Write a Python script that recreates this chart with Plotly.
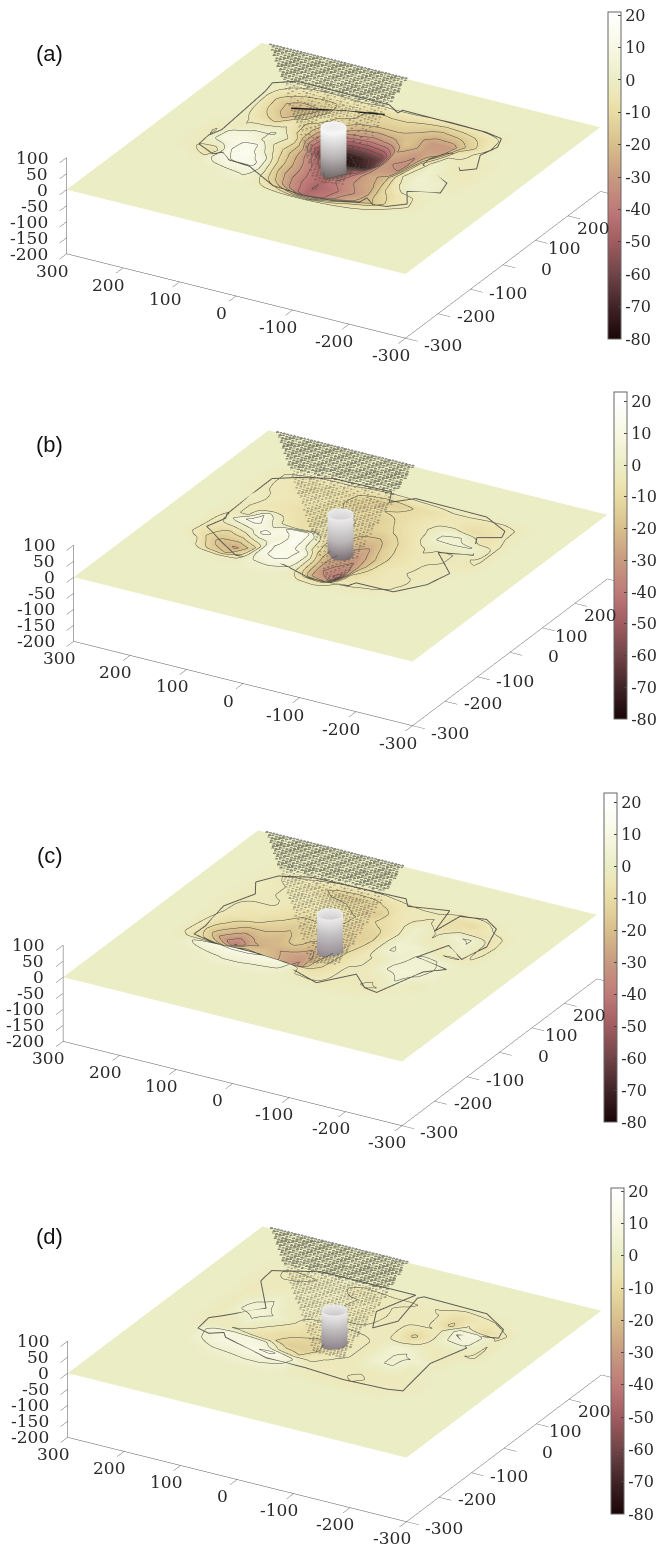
import numpy as np
import plotly.graph_objects as go

GRID_X = [240,210,180,150,120,90,60,30,0,-30,-60,-90,-120,-150,-180,-210,-240]
GRID_Y = [240,210,180,150,120,90,60,30,0,-30,-60,-90,-120,-150,-180]

Z_A = [
[0]*17,
[0]*17,
[0,0,-5,-10,-12,-10,-8,-12,-10,-10,-14,-18,-15,-10,-5,0,0],
[0,0,-14,-24,-20,-10,-8,-14,-16,-16,-20,-30,-30,-16,-6,0,0],
[0,0,-12,-22,-14,-6,-16,-30,-35,-30,-18,-28,-28,-8,-3,0,0],
[0,0,-8,-14,-6,-14,-50,-75,-70,-60,-25,-32,-18,-3,-3,-3,0],
[0,0,-4,-5,-3,-14,-55,-80,-75,-65,-30,-34,-10,2,-3,-3,0],
[0,-2,-3,2,4,-6,-35,-55,-55,-50,-30,-30,-6,2,-2,-3,0],
[0,-4,6,8,2,-10,-28,-42,-50,-40,-28,-22,-4,3,2,-2,0],
[0,-3,8,10,12,-4,-22,-38,-45,-36,-30,-24,-8,2,2,0,0],
[0,-3,-10,10,14,8,-20,-36,-46,-42,-34,-28,-12,-6,-3,0,0],
[0,0,-2,8,12,12,-12,-30,-44,-40,-30,-24,-18,-8,-4,0,0],
[0,0,0,0,2,4,-4,-12,-20,-22,-16,-10,-6,-3,0,0,0],
[0]*17,
[0]*17,
]
Z_B = [
[0]*17,
[0]*17,
[0,-3,-5,-7,-8,-8,-12,-16,-14,-10,-8,-5,-5,-6,-6,-3,0],
[0,-3,-5,-7,-6,-8,-14,-12,-10,-9,-6,-4,-5,-10,-7,-3,0],
[0,-3,-4,-5,-6,-9,-10,-12,-14,-10,-6,-3,3,3,-6,-4,0],
[0,0,-4,-6,-8,-10,-8,-10,-14,-12,-8,-4,4,5,4,-4,0],
[0,-2,-5,-5,-6,-10,-8,-9,-18,-20,-12,-6,-3,-4,-3,-4,0],
[0,-3,-4,10,-4,-8,-6,-10,-22,-26,-14,-8,-4,-4,-3,-3,0],
[0,-5,8,14,4,12,14,-10,-24,-30,-18,-8,-5,-3,-3,0,0],
[0,-6,-12,-4,14,6,16,-6,-28,-34,-18,-6,-4,-3,-2,0,0],
[0,-8,-20,-26,-14,10,12,10,-30,-42,-12,-6,-4,-4,0,0,0],
[0,0,-14,-18,-10,8,14,8,-24,-30,-8,-5,-5,-3,0,0,0],
[0,0,0,-2,-2,2,3,0,-6,-8,-3,-3,-2,0,0,0,0],
[0]*17,
[0]*17,
]
Z_C = [
[0]*17,
[0]*17,
[0,-2,-4,-5,-8,-14,-16,-14,-8,-5,-4,-4,-8,-10,-4,0,0],
[0,-2,-3,-4,-5,-8,-10,-14,-16,-6,-4,-3,-8,-5,-6,-5,0],
[0,-2,-3,-4,-4,-5,-6,-10,-12,-8,-4,2,-4,3,4,-6,0],
[0,-3,-3,-3,-6,-8,-8,-10,-14,-12,-6,2,-3,-3,3,-5,0],
[0,-3,-5,-5,-8,-14,-12,-14,-14,-14,-5,3,3,-3,-4,-3,0],
[0,-3,-6,-8,-14,-18,-14,-16,-18,-12,-5,4,2,5,3,0,0],
[0,-4,-12,-24,-20,-22,-14,-24,-20,-10,-4,-3,3,5,4,0,0],
[0,-5,-24,-40,-26,-22,-26,-30,-18,-9,-4,-3,4,6,3,0,0],
[0,-6,-12,-20,-16,-18,-24,-34,-16,-8,-3,-3,-3,4,-3,0,0],
[0,0,6,10,12,12,10,8,-6,-6,-3,-3,-4,-3,0,0,0],
[0,0,0,2,4,4,3,2,-2,-3,-3,-2,-2,0,0,0,0],
[0]*17,
[0]*17,
]
Z_D = [
[0]*17,
[0]*17,
[0,-2,-5,-4,-3,-2,-6,-5,-4,-4,-3,-4,-8,-6,-4,0,0],
[0,-3,-3,-3,-3,-2,-3,-4,-4,-3,-3,-3,-12,-3,-10,-5,0],
[0,-3,-3,-2,-2,-3,-3,-5,-5,-3,-3,-3,-4,6,8,-3,0],
[0,-3,-2,2,-3,-2,-2,-4,-4,-3,-3,-12,-5,4,6,-4,0],
[0,-3,3,5,-2,-3,-3,-3,-3,-3,-3,-6,-3,-3,-3,-4,0],
[0,-3,4,6,3,-3,-8,-6,-5,-4,-3,3,3,-3,-3,0,0],
[0,-3,-2,3,-3,-8,-10,-12,-8,-4,-3,3,4,3,-2,0,0],
[0,-3,-3,-4,-8,-10,-15,-15,-8,-4,-3,3,4,-3,0,0,0],
[0,0,6,8,8,6,-6,-10,-4,-3,-3,-3,-3,-3,-2,0,0],
[0,0,4,8,8,10,12,6,-3,-3,-3,-4,-3,-3,-3,0,0],
[0,0,0,2,3,4,4,2,-2,-3,-3,-3,-2,-2,0,0,0],
[0]*17,
[0]*17,
]
OUT_A_X = [209,214,185,20,-3,-6,-156,-188,-198,-189,-208,-189,-144,-130,-119,-128,-195,-204,-156,-177,-153,-128,-103,-102,-64,-9,37,92,130,154,167,206,208,199,209]
OUT_A_Y = [154,184,208,207,193,202,199,190,161,123,79,61,117,122,88,53,10,-26,-45,-81,-103,-102,-76,-97,-113,-109,-122,-99,-95,-74,-81,-56,-23,2,154]
OUT_B_X = [210,211,178,130,28,19,-3,-16,-143,-191,-198,-165,-193,-140,-194,-184,-151,-84,-79,-41,-10,38,127,174,215,202,209,210]
OUT_B_Y = [109,156,182,202,206,183,196,204,201,174,152,133,73,57,-1,-54,-100,-98,-114,-115,-113,-107,-102,-61,-38,-2,14,109]
OUT_C_X = [212,193,145,-18,-32,-97,-112,-119,-161,-191,-208,-198,-157,-138,-198,-173,-144,-119,-84,-46,2,164,205,205,213,192,212]
OUT_C_Y = [140,177,198,203,184,200,128,193,202,180,121,61,92,27,14,-14,-107,-100,-65,-122,-101,-78,-62,-27,43,104,140]
OUT_D_X = [207,210,140,-26,0,-25,-47,-33,-40,-153,-202,-210,-194,-154,-188,-166,-177,-152,-76,-5,58,148,159,179,205,211,196,147,207]
OUT_D_Y = [133,172,205,205,129,74,114,198,206,203,169,140,131,108,80,6,-97,-104,-107,-100,-109,-78,-64,-76,-64,-20,-4,45,133]
OUTLINES = [(OUT_A_X,OUT_A_Y),(OUT_B_X,OUT_B_Y),(OUT_C_X,OUT_C_Y),(OUT_D_X,OUT_D_Y)]
PANEL_GRIDS = [Z_A, Z_B, Z_C, Z_D]
PANEL_NAMES = ["(a)", "(b)", "(c)", "(d)"]
PLATE_CENTRE = [(334,158.5),(341,546),(330.5,945.5),(335,1341.5)]
LABEL_Y = [53,445,855,1236]
CYL_BASE = [-50,-57,-32,-16]
CYL_TOP = [98,118,114,114]
CYL_DARK = ["#6e6464","#5a4a50","#8a8088","#857a80"]
HATCH_END_Y = [-45,-105,-50,-40]
CBAR_X = [608,614,604,611]
CBAR_TOP = [12,392,793,1188]
CBAR_BOTTOM = [339,719,1122,1514]
CBAR_MAX = [21,23,23,21]
CBAR_STOPS = [(-80,"#1a0505"),(-70,"#402426"),(-60,"#704448"),(-50,"#a05c60"),(-40,"#bf7a78"),
              (-30,"#c89a80"),(-20,"#d8bf8c"),(-10,"#e8dca4"),(-5,"#eee6b6"),(0,"#ebedc5"),(10,"#f8f8e4"),(20,"#ffffff"),(23,"#ffffff")]
CBAR_TICKS = list(range(-80,30,10))
X_TICKS = [-300,-200,-100,0,100,200,300]
Y_TICKS = [-300,-200,-100,0,100,200,300]
Y_LABELS = [-300,-200,-100,0,100,200]
Z_TICKS = [-200,-150,-100,-50,0,50,100]
Y_SHIFT_PX = [37,38,38,44,29,25]
Y_DROP_PX = [7,2,4,4,8,12]
WEDGE_BACK = (283,41,298)
WEDGE_APEX = (-60,-130)
RIDGE_A_X = [156,100,50,14]
RIDGE_A_Y = [141,155,170,182]

EYE = np.array([0.449,-0.781,0.433])*1.8
ZOOM = 2.0575
W,H = 660,1549
fig = go.Figure()

def lookup(grid,x,y):
    xs=np.array(GRID_X[::-1],float); ys=np.array(GRID_Y[::-1],float)
    g=np.array(grid,float)[::-1,::-1]
    if x<xs[0] or x>xs[-1] or y<ys[0] or y>ys[-1]: return 0.0
    i=min(np.searchsorted(xs,x,side='right')-1,len(xs)-2); j=min(np.searchsorted(ys,y,side='right')-1,len(ys)-2)
    tx=(x-xs[i])/(xs[i+1]-xs[i]); ty=(y-ys[j])/(ys[j+1]-ys[j])
    return (g[j,i]*(1-tx)*(1-ty)+g[j,i+1]*tx*(1-ty)+g[j+1,i]*(1-tx)*ty+g[j+1,i+1]*tx*ty)

def ax(vals,rng):
    return dict(range=rng,tickmode="array",tickvals=vals,showticklabels=False,showgrid=False,zeroline=False,showbackground=False,
        showline=True,linecolor="#555",linewidth=1,ticks="outside",ticklen=14,tickcolor="#555",showspikes=False,
        title=dict(text=""))

TF = dict(family="DejaVu Serif",size=17,color="#2a2a2a")
FLAT = dict(ambient=1,diffuse=0,specular=0,roughness=1,fresnel=0)

for p,grid in enumerate(PANEL_GRIDS):
    sid = "scene" if p==0 else f"scene{p+1}"
    cx,cy = PLATE_CENTRE[p]
    cmax = CBAR_MAX[p]
    cs = [[(v+80)/(cmax+80),c] for v,c in CBAR_STOPS if v<=cmax]
    if cs[-1][0]<1: cs.append([1,"#ffffff"])
    xs = [-300]+GRID_X[::-1]+[300]
    ys = [-300]+GRID_Y[::-1]+[300]
    z = np.pad(np.array(grid,float)[::-1,::-1],1)
    fig.add_trace(go.Surface(x=xs,y=ys,z=z,scene=sid,cmin=-80,cmax=cmax,colorscale=cs,hoverinfo="skip",
        lighting=FLAT,
        contours=dict(z=dict(show=True,start=-80.5,end=20,size=7,color="#4a4a40",width=1)),
        colorbar=dict(x=CBAR_X[p]/W,xanchor="left",xpad=0,ypad=0,y=1-CBAR_TOP[p]/H,yanchor="top",
            lenmode="pixels",len=CBAR_BOTTOM[p]-CBAR_TOP[p],thicknessmode="pixels",thickness=13,
            tickmode="array",tickvals=CBAR_TICKS,ticktext=[str(v) for v in CBAR_TICKS],ticks="inside",ticklen=3,tickcolor="#444",outlinecolor="#666",outlinewidth=1,
            tickfont=dict(family="DejaVu Serif",size=16,color="#2a2a2a"))))
    back=[[],[],[]]; front=[[],[],[]]
    k=0
    for row_y in np.arange(WEDGE_BACK[2],HATCH_END_Y[p],-7.5):
        f=(WEDGE_BACK[2]-row_y)/(WEDGE_BACK[2]-WEDGE_APEX[1])
        x0=WEDGE_BACK[0]+(WEDGE_APEX[0]-WEDGE_BACK[0])*f
        x1=WEDGE_BACK[1]+(WEDGE_APEX[0]-WEDGE_BACK[1])*f
        xx=x0-(3 if k%2 else 0)
        tgt=back if row_y>196 else front
        while xx>x1:
            tgt[0].append(xx);tgt[1].append(row_y);tgt[2].append(lookup(grid,xx,row_y)+2)
            xx-=6.0
        k+=1
    fig.add_trace(go.Scatter3d(x=back[0],y=back[1],z=back[2],mode="markers",scene=sid,hoverinfo="skip",showlegend=False,
        marker=dict(color="#46463a",size=2,opacity=0.6,line=dict(width=0))))
    fig.add_trace(go.Scatter3d(x=front[0],y=front[1],z=front[2],mode="markers",scene=sid,hoverinfo="skip",showlegend=False,
        marker=dict(color="#46463a",size=1.6,opacity=0.4,line=dict(width=0))))
    ox,oy=OUTLINES[p]
    fig.add_trace(go.Scatter3d(x=ox,y=oy,z=[lookup(grid,a,b)+1.5 for a,b in zip(ox,oy)],mode="lines",scene=sid,hoverinfo="skip",
        showlegend=False,line=dict(color="#5c5c54",width=2)))
    if p==0:
        fig.add_trace(go.Scatter3d(x=RIDGE_A_X,y=RIDGE_A_Y,z=[lookup(grid,a,b)+2 for a,b in zip(RIDGE_A_X,RIDGE_A_Y)],
            mode="lines",scene=sid,hoverinfo="skip",showlegend=False,line=dict(color="#222",width=3)))
    th=np.linspace(0,2*np.pi,49)
    R=20
    zb,zt=CYL_BASE[p],CYL_TOP[p]
    rows_r=[0,R]+[R]*10
    rows_z=[zt,zt]+list(np.linspace(zt,zb,10))
    rows_c=[0.9,0.96]+list(np.linspace(1,0,10))
    X=np.outer(rows_r,np.cos(th)); Y=np.outer(rows_r,np.sin(th)); Zc=np.outer(rows_z,np.ones_like(th))
    C=np.outer(rows_c,np.ones_like(th))
    fig.add_trace(go.Surface(x=X,y=Y,z=Zc,surfacecolor=C,scene=sid,cmin=0,cmax=1,showscale=False,hoverinfo="skip",
        colorscale=[[0,CYL_DARK[p]],[0.5,"#bdb9bb"],[1,"#f8f8f8"]],lighting=FLAT))
    ymid=cy+16
    half=190
    top=max(0,ymid-half)
    shift=(top+half-ymid)/190/0.9
    annos=[]
    for v in X_TICKS:
        annos.append(dict(x=v,y=-300,z=-200,text=str(v),showarrow=False,xshift=-15,yshift=-17,xanchor="center",yanchor="middle",font=TF))
    for v,sx,dy in zip(Y_LABELS,Y_SHIFT_PX,Y_DROP_PX):
        annos.append(dict(x=-300,y=v,z=-200,text=str(v),showarrow=False,xshift=sx,yshift=-dy,xanchor="center",yanchor="middle",font=TF))
    for v in Z_TICKS:
        annos.append(dict(x=300,y=-300,z=v,text=str(v),showarrow=False,xshift=-17,yshift=0,xanchor="right",yanchor="middle",font=TF))
    fig.update_layout({sid:dict(
        domain=dict(x=[(2*cx-W)/W if 2*cx>W else 0,1 if 2*cx>=W else 2*cx/W],y=[1-(top+2*half)/H,1-top/H]),
        xaxis=ax(X_TICKS,[300,-300]),yaxis=ax(Y_TICKS,[-300,300]),zaxis=ax(Z_TICKS,[-200,100]),
        aspectmode="manual",aspectratio=dict(x=ZOOM,y=ZOOM,z=0.273*ZOOM),
        bgcolor="rgba(0,0,0,0)",annotations=annos,
        camera=dict(eye=dict(x=float(EYE[0]),y=float(EYE[1]),z=float(EYE[2])-shift),up=dict(x=0,y=0,z=1),center=dict(x=0,y=0,z=-shift),
            projection=dict(type="orthographic")))})
    fig.add_annotation(x=50/W,y=1-LABEL_Y[p]/H,xref="paper",yref="paper",text=PANEL_NAMES[p],showarrow=False,xanchor="center",yanchor="middle",
        font=dict(family="Liberation Sans",size=22,color="#111"))

fig.update_layout(width=W,height=H,margin=dict(l=0,r=0,t=0,b=0),paper_bgcolor="white",showlegend=False)
fig.write_html("out.html",config=dict(displayModeBar=False),
    post_script="document.body.style.margin='0';document.documentElement.style.overflow='hidden';")
